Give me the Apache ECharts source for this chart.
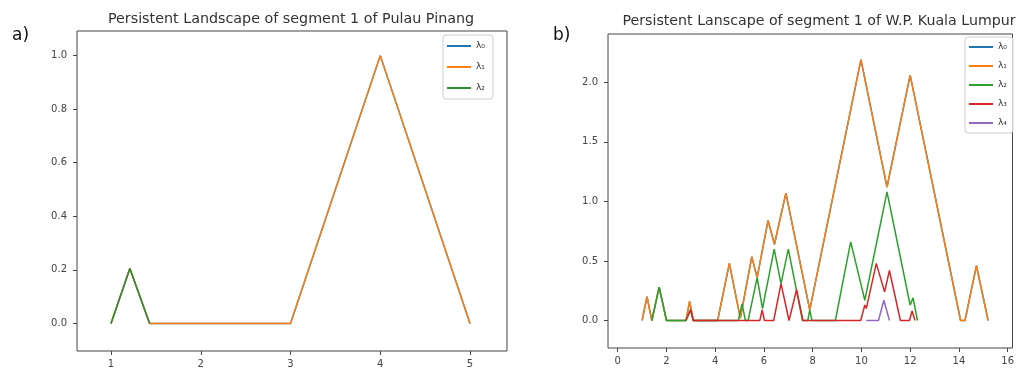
<!DOCTYPE html>
<html>
<head>
<meta charset="utf-8">
<script src="https://cdn.jsdelivr.net/npm/echarts@6/dist/echarts.min.js"></script>
<style>html,body{margin:0;padding:0;background:#fff}#c{width:1017px;height:372px}</style>
</head>
<body>
<div id="c"></div>
<script>
// ---- data: a) Pulau Pinang ----
const penangTitle = 'Persistent Landscape of segment 1 of Pulau Pinang';
const penangNames = ['λ₀', 'λ₁', 'λ₂'];
const penangL0 = [[1,0],[1.21,0.205],[1.43,0],[3,0],[4,1.0],[5,0]];
const penangL1 = [[1,0],[1.21,0.205],[1.43,0],[3,0],[4,1.0],[5,0]];
const penangL2 = [[1,0],[1.21,0.205],[1.43,0]];
const penangXTicks = [1,2,3,4,5];
const penangYTicks = [0,0.2,0.4,0.6,0.8,1.0];

// ---- data: b) W.P. Kuala Lumpur ----
const klTitle = 'Persistent Lanscape of segment 1 of W.P. Kuala Lumpur';
const klNames = ['λ₀', 'λ₁', 'λ₂', 'λ₃', 'λ₄'];
const klL0 = [[1.0,0],[1.2,0.2],[1.4,0],[1.7,0.28],[2.0,0],[2.8,0],[2.95,0.16],[3.1,0],[4.1,0],[4.58,0.48],[5.03,0.02],[5.5,0.535],[5.72,0.36],[6.17,0.84],[6.43,0.64],[6.9,1.07],[7.88,0.09],[9.98,2.19],[11.05,1.12],[12.0,2.06],[14.07,0],[14.25,0],[14.72,0.46],[15.2,0]];
const klL1 = [[1.0,0],[1.2,0.2],[1.4,0],[1.7,0.28],[2.0,0],[2.8,0],[2.95,0.16],[3.1,0],[4.1,0],[4.58,0.48],[5.03,0.02],[5.5,0.535],[5.72,0.36],[6.17,0.84],[6.43,0.64],[6.9,1.07],[7.88,0.09],[9.98,2.19],[11.05,1.12],[12.0,2.06],[14.07,0],[14.25,0],[14.72,0.46],[15.2,0]];
const klL2 = [[1.4,0],[1.7,0.28],[2.0,0],[2.8,0],[2.99,0.09],[3.1,0],[4.95,0],[5.1,0.14],[5.24,0],[5.35,0],[5.72,0.36],[5.94,0.1],[6.42,0.6],[6.7,0.31],[7.0,0.6],[7.58,0],[7.8,0],[7.88,0.09],[7.97,0],[8.93,0],[9.56,0.66],[10.14,0.17],[11.05,1.08],[12.0,0.13],[12.12,0.19],[12.3,0]];
const klL3 = [[2.8,0],[2.99,0.09],[3.1,0],[5.83,0],[5.93,0.09],[6.02,0],[6.4,0],[6.7,0.31],[7.03,0],[7.08,0],[7.34,0.26],[7.6,0],[9.97,0],[10.14,0.13],[10.2,0.1],[10.61,0.48],[10.95,0.24],[11.15,0.42],[11.6,0],[11.97,0],[12.08,0.08],[12.2,0]];
const klL4 = [[10.2,0],[10.7,0],[10.92,0.17],[11.15,0]];
const klXTicks = [0,2,4,6,8,10,12,14,16];
const klYTicks = [0,0.5,1.0,1.5,2.0];

const colorsA = ['#1f77b4', '#ff7f0e', '#2e8b2e'];
const colorsB = ['#1f77b4', '#ff7f0e', '#2ca02c', '#d62728', '#9467bd'];
const FONT = 'DejaVu Sans';

function mkX(gi, min, max, ticks) {
  return {
    type: 'value', gridIndex: gi, min: min, max: max,
    splitLine: {show: false},
    axisLine: {show: false, onZero: false},
    axisTick: {show: true, inside: false, length: 4, lineStyle: {color: '#444'}, customValues: ticks},
    axisLabel: {customValues: ticks, color: '#444', fontSize: 10, fontFamily: FONT, margin: 8,
      formatter: v => String(Math.round(v))}
  };
}
function mkY(gi, min, max, ticks) {
  return {
    type: 'value', gridIndex: gi, min: min, max: max,
    splitLine: {show: false},
    axisLine: {show: false, onZero: false},
    axisTick: {show: true, inside: false, length: 4, lineStyle: {color: '#444'}, customValues: ticks},
    axisLabel: {customValues: ticks, color: '#444', fontSize: 10, fontFamily: FONT, margin: 10,
      formatter: v => v.toFixed(1)}
  };
}
function mkS(name, data, gi, color, z) {
  return {
    type: 'line', name: name, data: data, xAxisIndex: gi, yAxisIndex: gi,
    showSymbol: false, symbol: 'none', z: z, silent: true,
    lineStyle: {color: color, width: 1.5}, itemStyle: {color: color}
  };
}

const penangData = [penangL0, penangL1, penangL2];
const klData = [klL0, klL1, klL2, klL3, klL4];
const series = [];
penangData.forEach((d, i) => series.push(mkS(penangNames[i], d, 0, colorsA[i], 2 + i)));
klData.forEach((d, i) => series.push(mkS(klNames[i], d, 1, colorsB[i], 2 + i)));

function mkLegend(names, cols, left, top, gap, pad) {
  return {
    orient: 'vertical', left: left, top: top, itemGap: gap, padding: pad,
    icon: 'rect', itemWidth: 24, itemHeight: 2,
    borderColor: '#ccc', borderWidth: 1, borderRadius: 3,
    backgroundColor: 'rgba(255,255,255,0.85)',
    textStyle: {fontSize: 9, fontFamily: FONT, color: '#333', lineHeight: 12},
    selectedMode: false,
    data: names.map((n, i) => ({name: n, itemStyle: {color: cols[i]}}))
  };
}

const chart = echarts.init(document.getElementById('c'), null, {renderer: 'canvas'});
chart.setOption({
  animation: false,
  backgroundColor: '#fff',
  grid: [
    {left: 77, top: 31, width: 430, height: 320, show: true, borderColor: '#444', borderWidth: 1, backgroundColor: 'transparent'},
    {left: 608, top: 34, width: 410, height: 314, show: true, borderColor: '#444', borderWidth: 1, backgroundColor: 'transparent'}
  ],
  xAxis: [mkX(0, 0.621, 5.412, penangXTicks), mkX(1, -0.4, 16.2, klXTicks)],
  yAxis: [mkY(0, -0.103, 1.092, penangYTicks), mkY(1, -0.231, 2.406, klYTicks)],
  legend: [mkLegend(penangNames, colorsA, 443, 35, 9, [5, 8, 5, 4]), mkLegend(klNames, colorsB, 965, 37, 7, [4, 6, 4, 4])],
  graphic: [
    {type: 'text', left: 12, top: 27, style: {text: 'a)', fontSize: 17, fontFamily: FONT, fill: '#111'}},
    {type: 'text', left: 553, top: 27, style: {text: 'b)', fontSize: 17, fontFamily: FONT, fill: '#111'}},
    {type: 'text', x: 291, y: 19, style: {text: penangTitle, fontSize: 14.3, fontFamily: FONT, fill: '#333', align: 'center', verticalAlign: 'middle'}},
    {type: 'text', x: 819, y: 21, style: {text: klTitle, fontSize: 14.2, fontFamily: FONT, fill: '#333', align: 'center', verticalAlign: 'middle'}}
  ],
  series: series
});
</script>
</body>
</html>
